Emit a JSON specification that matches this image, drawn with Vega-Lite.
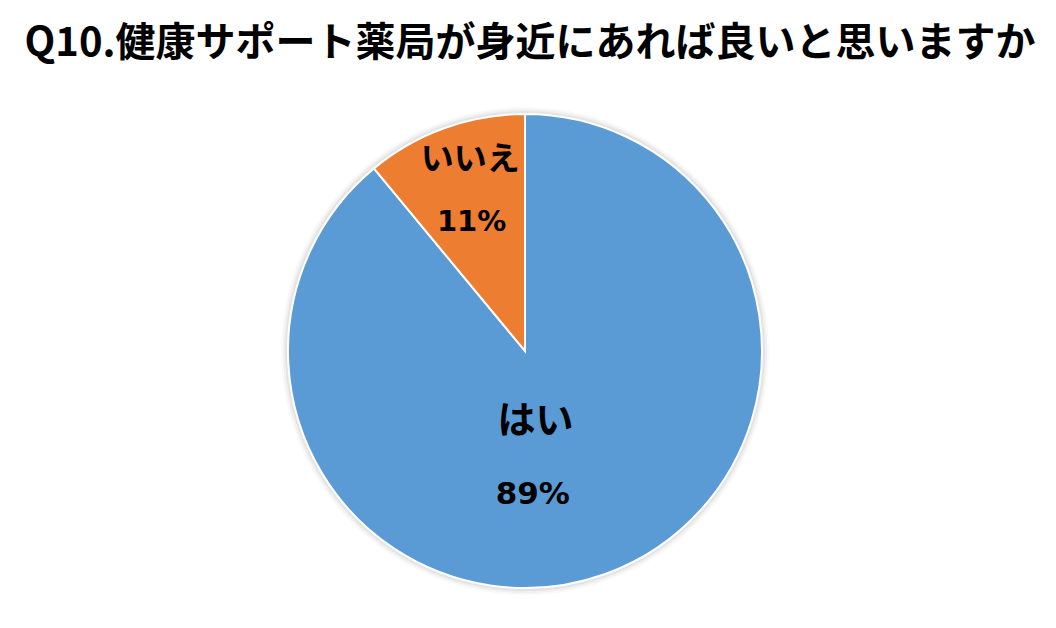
{
  "$schema": "https://vega.github.io/schema/vega-lite/v6.json",
  "autosize": "none",
  "width": 1050,
  "height": 542,
  "padding": {"left": 0, "top": 80, "right": 6, "bottom": 6},
  "background": "white",
  "title": {
    "text": "Q10.健康サポート薬局が身近にあれば良いと思いますか",
    "anchor": "middle",
    "dx": 5,
    "offset": 16,
    "font": "Noto Sans CJK JP",
    "fontSize": 40,
    "fontWeight": "bold",
    "color": "#000000"
  },
  "data": {
    "values": [
      {"category": "はい", "value": 89, "label": "89%"},
      {"category": "いいえ", "value": 11, "label": "11%"}
    ]
  },
  "encoding": {
    "theta": {"field": "value", "type": "quantitative", "stack": true},
    "order": {"field": "value", "type": "quantitative", "sort": "descending"}
  },
  "layer": [
    {"mark": {"type": "arc", "radius": 244, "color": "#000000", "opacity": 0.025, "strokeWidth": 0}},
    {"mark": {"type": "arc", "radius": 242, "color": "#000000", "opacity": 0.035, "strokeWidth": 0}},
    {"mark": {"type": "arc", "radius": 240, "color": "#000000", "opacity": 0.05, "strokeWidth": 0}},
    {
      "mark": {"type": "arc", "radius": 237, "stroke": "#ffffff", "strokeWidth": 2},
      "encoding": {
        "color": {
          "field": "category",
          "type": "nominal",
          "scale": {"domain": ["はい", "いいえ"], "range": ["#5B9BD5", "#ED7D31"]},
          "legend": null
        }
      }
    },
    {
      "mark": {"type": "text", "radius": 203, "dx": 14, "font": "Noto Sans CJK JP", "fontSize": 33, "fontWeight": "bold", "color": "#000000", "baseline": "middle", "align": "center"},
      "encoding": {"text": {"condition": {"test": "datum.category === 'いいえ'", "field": "category"}, "value": ""}}
    },
    {
      "mark": {"type": "text", "radius": 137, "dx": -7, "font": "DejaVu Sans", "fontSize": 29, "fontWeight": "bold", "color": "#000000", "baseline": "middle", "align": "center"},
      "encoding": {"text": {"condition": {"test": "datum.category === 'いいえ'", "field": "label"}, "value": ""}}
    },
    {
      "mark": {"type": "text", "radius": 75, "dx": -15, "font": "Noto Sans CJK JP", "fontSize": 38, "fontWeight": "bold", "color": "#000000", "baseline": "middle", "align": "center"},
      "encoding": {"text": {"condition": {"test": "datum.category === 'はい'", "field": "category"}, "value": ""}}
    },
    {
      "mark": {"type": "text", "radius": 153, "dx": -44, "font": "DejaVu Sans", "fontSize": 31, "fontWeight": "bold", "color": "#000000", "baseline": "middle", "align": "center"},
      "encoding": {"text": {"condition": {"test": "datum.category === 'はい'", "field": "label"}, "value": ""}}
    }
  ]
}
